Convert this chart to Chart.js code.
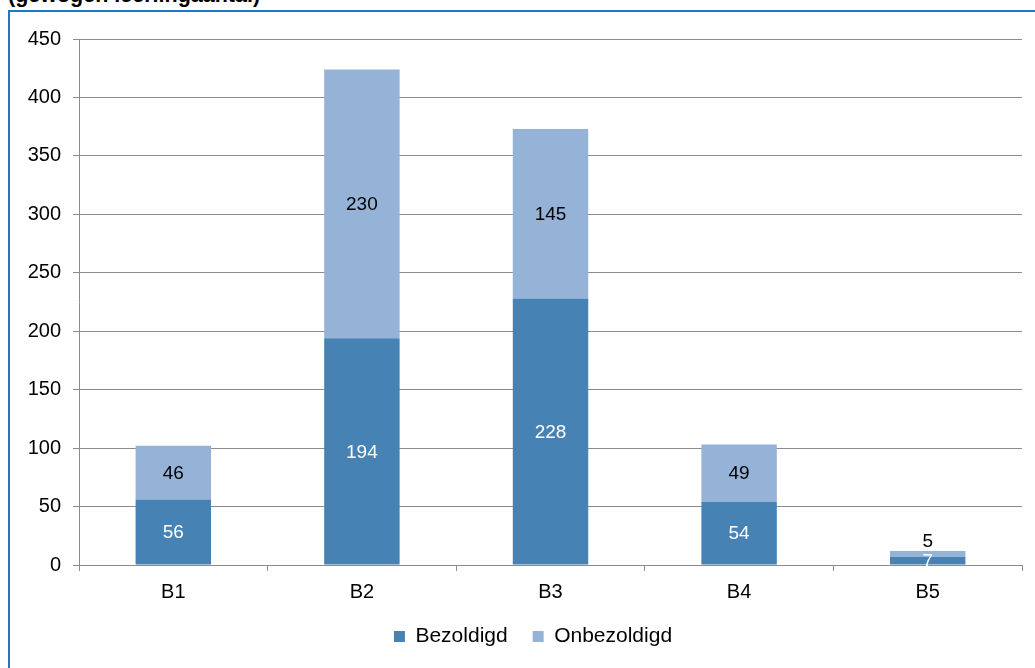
<!DOCTYPE html>
<html>
<head>
<meta charset="utf-8">
<script src="https://cdn.jsdelivr.net/npm/chart.js@4.4.1/dist/chart.umd.min.js"></script>
<style>
  html,body{margin:0;padding:0;background:#fff;overflow:hidden;}
  #wrap{position:relative;width:1035px;height:668px;overflow:hidden;}
  #title{position:absolute;left:8px;top:-15px;font:bold 21.5px "Liberation Sans",Arial,sans-serif;line-height:21px;color:#000;white-space:nowrap;}
  #frame{position:absolute;left:8px;top:10px;width:1100px;height:700px;border:2px solid #1f78c1;box-sizing:border-box;}
  #c{position:absolute;left:0;top:0;}
</style>
</head>
<body>
<div id="wrap">
  <div id="frame"></div>
  <div id="title">(gewogen leerlingaantal)</div>
  <canvas id="c" width="1035" height="668"></canvas>
</div>
<script>
const categories = ["B1", "B2", "B3", "B4", "B5"];
const bezoldigd = [56, 194, 228, 54, 7];
const onbezoldigd = [46, 230, 145, 49, 5];
const seriesNames = ["Bezoldigd", "Onbezoldigd"];
const yTicks = [0, 50, 100, 150, 200, 250, 300, 350, 400, 450];

const FONT = '"Liberation Sans", Arial, sans-serif';
const GRID = '#8c8c8c';

const labelPlugin = {
  id: 'barLabels',
  afterDatasetsDraw(chart) {
    const ctx = chart.ctx;
    ctx.save();
    ctx.font = '19px ' + FONT;
    ctx.textAlign = 'center';
    ctx.textBaseline = 'middle';
    chart.data.datasets.forEach((ds, di) => {
      const meta = chart.getDatasetMeta(di);
      meta.data.forEach((el, i) => {
        const v = ds.data[i];
        const top = Math.min(el.y, el.base), bot = Math.max(el.y, el.base);
        const h = bot - top;
        let y = (top + bot) / 2 + 1;
        if (di === 1 && h < 12) y = top - 9;
        ctx.fillStyle = (di === 0) ? '#ffffff' : '#000000';
        ctx.fillText(String(v), el.x, y);
      });
    });
    ctx.restore();
  }
};

// shift the legend so it is centred on the (wider, cropped) chart frame
const legendShift = {
  id: 'legendShift',
  afterLayout(chart) {
    if (chart.legend) { chart.legend.left += 22; chart.legend.right += 22; }
  }
};

new Chart(document.getElementById('c'), {
  type: 'bar',
  data: {
    labels: categories,
    datasets: [
      { label: seriesNames[0], data: bezoldigd, backgroundColor: '#4682b4', borderWidth: 0 },
      { label: seriesNames[1], data: onbezoldigd, backgroundColor: '#95b3d7', borderWidth: 0 }
    ]
  },
  options: {
    responsive: false,
    animation: false,
    events: [],
    layout: { padding: { top: 39, right: 13, bottom: 11, left: 0 } },
    datasets: { bar: { categoryPercentage: 1.0, barPercentage: 0.4 } },
    plugins: {
      legend: {
        position: 'bottom',
        labels: { font: { family: FONT, size: 21 }, color: '#000', boxWidth: 11, boxHeight: 11, padding: 25 }
      },
      tooltip: { enabled: false },
      title: { display: false }
    },
    scales: {
      x: {
        stacked: true,
        offset: true,
        grid: { offset: true, drawOnChartArea: false, drawTicks: true, tickLength: 6, color: GRID, lineWidth: 1 },
        border: { color: GRID, width: 1 },
        ticks: { font: { family: FONT, size: 20 }, color: '#000', padding: 9 },
        afterFit(s) { s.height = 36; }
      },
      y: {
        stacked: true,
        min: 0, max: 450,
        afterBuildTicks(s) { s.ticks = yTicks.map(v => ({ value: v })); },
        grid: { color: GRID, lineWidth: 1, tickLength: 6, drawTicks: true },
        border: { color: GRID, width: 1 },
        ticks: { font: { family: FONT, size: 20 }, color: '#000', padding: 12 },
        afterFit(s) { s.width = 79; }
      }
    }
  },
  plugins: [labelPlugin, legendShift]
});
</script>
</body>
</html>
